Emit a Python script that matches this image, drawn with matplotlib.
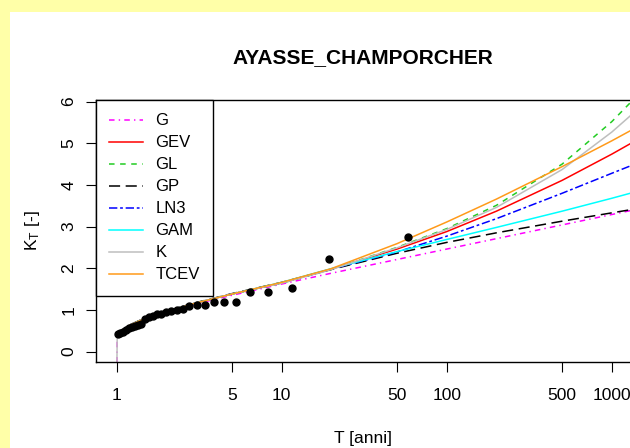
import matplotlib
matplotlib.use('Agg')
import matplotlib.pyplot as plt
import numpy as np
from matplotlib.patches import Rectangle

plt.rcParams['font.family'] = ['Liberation Sans', 'DejaVu Sans']
plt.rcParams['lines.scale_dashes'] = False

# osservazioni (posizioni di Hazen)
T_obs = [1.018, 1.055, 1.094, 1.137, 1.184, 1.234, 1.289, 1.349, 1.415, 1.487,
         1.568, 1.657, 1.758, 1.871, 2.0, 2.148, 2.32, 2.522, 2.762, 3.053,
         3.412, 3.867, 4.462, 5.273, 6.444, 8.286, 11.6, 19.33, 58.0]
K_obs = [0.43, 0.45, 0.48, 0.52, 0.56, 0.60, 0.62, 0.63, 0.65, 0.79,
         0.82, 0.86, 0.89, 0.91, 0.94, 0.97, 1.00, 1.03, 1.10, 1.11,
         1.12, 1.19, 1.20, 1.20, 1.42, 1.44, 1.52, 2.21, 2.74]

# curve di crescita
T_curve = [1.0, 1.01, 1.05, 1.2, 1.5, 2, 3, 5, 10, 20, 50, 100, 200, 500, 1000, 1320]
nan = np.nan
K_G = [-1.0, 0.27, 0.42, 0.60, 0.78, 0.94, 1.14, 1.35, 1.62, 1.88, 2.21, 2.46, 2.71, 3.04, 3.29, 3.39]
K_GEV = [nan, 0.38, 0.47, 0.63, 0.80, 0.96, 1.16, 1.38, 1.65, 1.98, 2.46, 2.88, 3.37, 4.11, 4.74, 5.01]
K_GL = [nan, 0.37, 0.47, 0.63, 0.80, 0.96, 1.16, 1.38, 1.64, 1.97, 2.50, 2.95, 3.51, 4.50, 5.52, 6.01]
K_GP = [nan, 0.42, 0.49, 0.64, 0.81, 0.97, 1.17, 1.39, 1.66, 1.97, 2.36, 2.62, 2.85, 3.13, 3.33, 3.41]
K_LN3 = [nan, 0.38, 0.47, 0.63, 0.80, 0.96, 1.16, 1.38, 1.65, 1.98, 2.39, 2.77, 3.19, 3.80, 4.28, 4.47]
K_GAM = [nan, 0.39, 0.47, 0.63, 0.80, 0.96, 1.16, 1.38, 1.66, 1.99, 2.40, 2.69, 2.98, 3.37, 3.68, 3.81]
K_K = [-1.0, 0.40, 0.47, 0.63, 0.80, 0.96, 1.16, 1.38, 1.64, 1.97, 2.49, 2.93, 3.46, 4.37, 5.27, 5.69]
K_TCEV = [nan, 0.40, 0.48, 0.63, 0.80, 0.96, 1.16, 1.38, 1.66, 1.99, 2.59, 3.11, 3.66, 4.44, 5.06, 5.32]

labels = ['G', 'GEV', 'GL', 'GP', 'LN3', 'GAM', 'K', 'TCEV']
series = [K_G, K_GEV, K_GL, K_GP, K_LN3, K_GAM, K_K, K_TCEV]
colors = ['magenta', 'red', '#22CC22', 'black', 'blue', 'cyan', '#BEBEBE', '#FF9A1A']
dashes = [(4, 3, 1, 3), None, (4, 4), (8, 4), (6, 2, 2, 2), None, None, None]

xticks = [1, 5, 10, 50, 100, 500, 1000]
yticks = [0, 1, 2, 3, 4, 5, 6]

W, H = 630, 448
fig = plt.figure(figsize=(6.3, 4.48), dpi=100)
fig.patch.set_facecolor('#FFFFA8')
fig.patches.append(Rectangle((10 / W, 0), 1, (H - 12) / H, transform=fig.transFigure,
                             facecolor='white', edgecolor='none', zorder=-1))

ax = fig.add_axes([96 / W, 1 - 361.5 / H, 535.6 / W, 261.5 / H])
ax.set_xscale('log')
ax.set_xlim(0.751, 1318)
ax.set_ylim(-0.24, 6.04)

for k, lab, c, d in zip(series, labels, colors, dashes):
    if d is None:
        ax.plot(T_curve, k, color=c, lw=1.1, label=lab)
    else:
        ax.plot(T_curve, k, color=c, lw=1.1, dashes=d, label=lab)

ax.plot(T_obs, K_obs, 'o', color='black', ms=5, zorder=5)

ax.set_xticks(xticks)
ax.set_xticklabels([str(t) for t in xticks])
ax.minorticks_off()
ax.set_yticks(yticks)
ax.set_yticklabels([str(t) for t in yticks], rotation=90, va='center')
ax.tick_params(direction='out', length=7, width=0.8, labelsize=12.5)
ax.tick_params(axis='x', pad=12)
ax.tick_params(axis='y', pad=7)
for s in ax.spines.values():
    s.set_linewidth(1.0)

leg = ax.legend(loc='upper left', bbox_to_anchor=(0, 1), borderaxespad=0,
                fancybox=False, edgecolor='black', framealpha=1, fontsize=12,
                handlelength=2.0, handletextpad=0.75, labelspacing=0.42, borderpad=0.8)
leg.get_frame().set_linewidth(1.0)

fig.text(363 / W, 1 - 58 / H, 'AYASSE_CHAMPORCHER', ha='center', va='center',
         fontsize=15, fontweight='bold')
fig.text(363 / W, 1 - 438 / H, 'T [anni]', ha='center', va='center', fontsize=12.5)
fig.text(33 / W, 1 - 231 / H, r'$\mathregular{K_T}$ [-]', ha='center', va='center',
         rotation=90, fontsize=12.5)

fig.savefig('out.png', dpi=100, facecolor=fig.get_facecolor())
